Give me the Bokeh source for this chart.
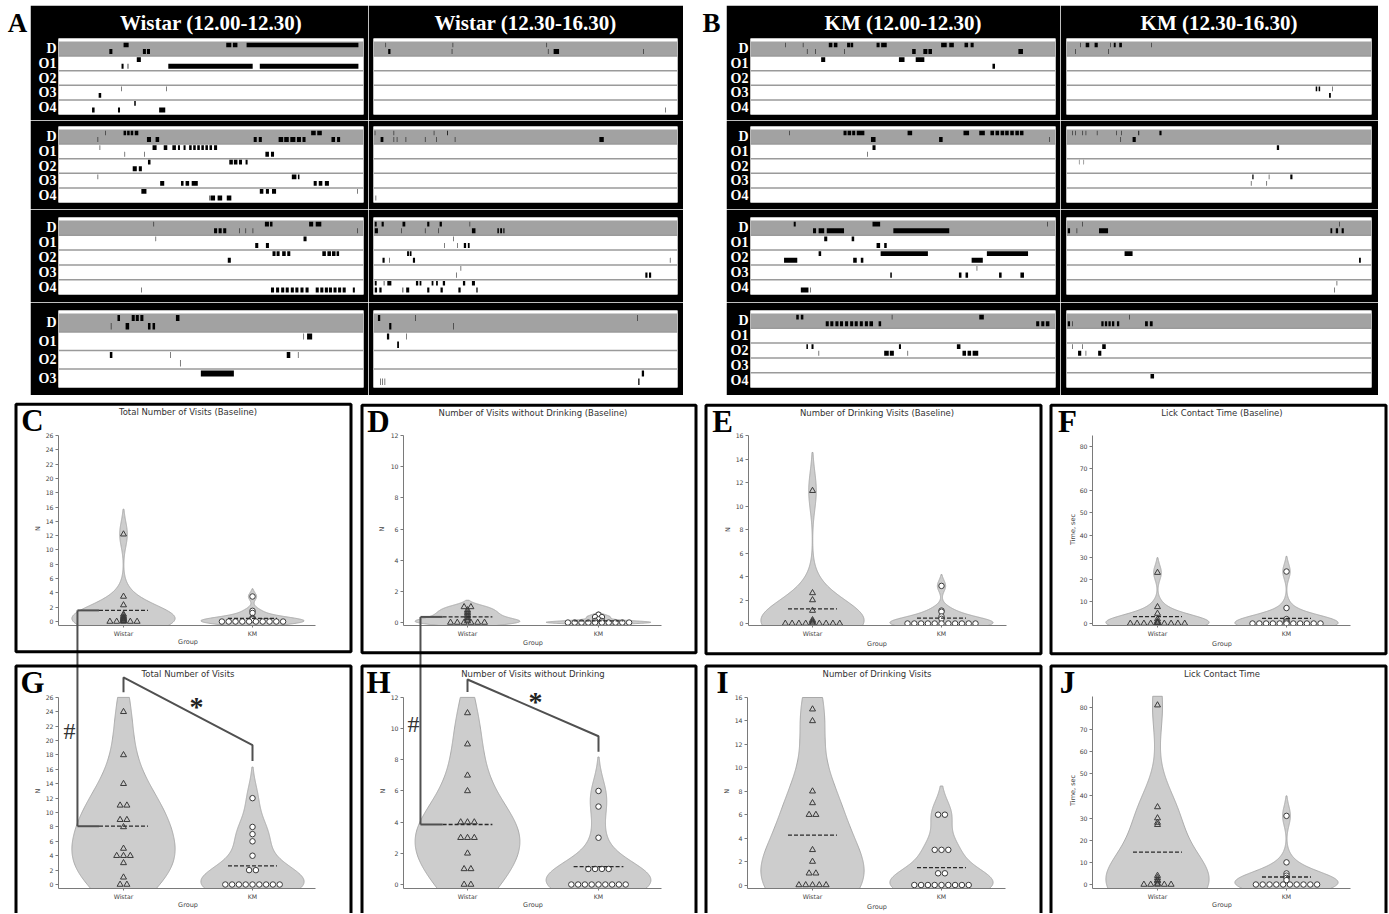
import numpy as np
from bokeh.plotting import figure
from bokeh.models import Range1d, FixedTicker, Label, Spacer
from bokeh.layouts import row, column
from bokeh.embed import file_html
from bokeh.resources import INLINE
from bokeh.core.properties import value

SERIF = "Liberation Serif"
SANS = "DejaVu Sans"

# ------------------------------------------------------------------
# Raster data: (row, track, start_min, end_min); row 0 = D, 1..4 = O1..O4
# track 0 = upper line of the row, track 1 = lower line
# ------------------------------------------------------------------
row_names_5 = ["D", "O1", "O2", "O3", "O4"]
row_names_4 = ["D", "O1", "O2", "O3"]
panel_titles = ["Wistar (12.00-12.30)", "Wistar (12.30-16.30)", "KM (12.00-12.30)", "KM (12.30-16.30)"]

wistar_before_1 = [
    (0, 0, 6.4, 6.9), (0, 0, 16.5, 17.0), (0, 0, 17.15, 17.6), (0, 0, 18.5, 29.5),
    (0, 1, 5.0, 5.3), (0, 1, 8.3, 8.6), (0, 1, 8.7, 9.0),
    (1, 0, 7.7, 8.1),
    (1, 1, 6.2, 6.4), (1, 1, 6.8, 6.87), (1, 1, 10.8, 19.1), (1, 1, 19.8, 29.5),
    (3, 0, 6.15, 6.2), (3, 0, 10.6, 10.65), (3, 1, 3.95, 4.2),
    (4, 0, 7.45, 7.6), (4, 1, 3.3, 3.55), (4, 1, 5.85, 6.05), (4, 1, 9.9, 10.5)]
wistar_before_2 = [
    (0, 0, 4.6, 4.65), (0, 0, 6.4, 6.65), (0, 0, 6.75, 7.0), (0, 0, 7.1, 7.35), (0, 0, 7.5, 7.85),
    (0, 0, 24.85, 25.3), (0, 0, 25.45, 25.9),
    (0, 1, 3.85, 3.9), (0, 1, 8.7, 9.1), (0, 1, 9.55, 9.9), (0, 1, 19.2, 19.5), (0, 1, 19.7, 20.0),
    (0, 1, 21.65, 22.1), (0, 1, 22.2, 22.65), (0, 1, 22.8, 23.3), (0, 1, 23.45, 23.85), (0, 1, 24.0, 24.3),
    (0, 1, 26.85, 27.2), (0, 1, 27.4, 27.7),
    (1, 0, 4.05, 4.1), (1, 0, 9.25, 9.65), (1, 0, 10.35, 10.7), (1, 0, 11.2, 11.55), (1, 0, 11.75, 11.95),
    (1, 0, 12.3, 12.5), (1, 0, 12.85, 13.1), (1, 0, 13.25, 13.5), (1, 0, 13.65, 13.9), (1, 0, 14.05, 14.3),
    (1, 0, 14.45, 14.7), (1, 0, 14.85, 15.1), (1, 0, 15.3, 15.6),
    (1, 1, 6.5, 6.55), (1, 1, 8.45, 8.5), (1, 1, 20.35, 20.7), (1, 1, 20.9, 21.2),
    (2, 0, 8.8, 9.05), (2, 0, 16.8, 17.15), (2, 0, 17.25, 17.6), (2, 0, 17.75, 18.05), (2, 0, 18.4, 18.6),
    (2, 1, 7.3, 7.7), (2, 1, 7.9, 8.2),
    (3, 0, 3.85, 3.9), (3, 0, 22.95, 23.4), (3, 0, 23.55, 23.7),
    (3, 1, 10.0, 10.4), (3, 1, 12.05, 12.3), (3, 1, 12.5, 12.85), (3, 1, 13.1, 13.7),
    (3, 1, 25.1, 25.4), (3, 1, 25.6, 25.95), (3, 1, 26.2, 26.6),
    (4, 0, 8.15, 8.65), (4, 0, 19.8, 20.15), (4, 0, 20.4, 20.7), (4, 0, 21.0, 21.4), (4, 0, 29.4, 29.45),
    (4, 1, 14.85, 14.9), (4, 1, 14.95, 15.4), (4, 1, 15.65, 16.1), (4, 1, 16.55, 17.0)]
wistar_before_3 = [
    (0, 0, 9.35, 9.4), (0, 0, 20.3, 20.7), (0, 0, 20.8, 21.05), (0, 0, 24.65, 25.05), (0, 0, 25.3, 25.85),
    (0, 1, 15.3, 15.6), (0, 1, 15.75, 16.05), (0, 1, 16.2, 16.5), (0, 1, 17.8, 17.85), (0, 1, 18.4, 18.45),
    (0, 1, 19.1, 19.15), (0, 1, 29.4, 29.45),
    (1, 0, 9.55, 9.6), (1, 0, 24.1, 24.4), (1, 1, 19.35, 19.65), (1, 1, 20.4, 20.7),
    (2, 0, 21.05, 21.35), (2, 0, 21.45, 21.75), (2, 0, 22.0, 22.35), (2, 0, 22.5, 22.8),
    (2, 0, 25.95, 26.3), (2, 0, 26.45, 26.8), (2, 0, 26.9, 27.25), (2, 0, 27.35, 27.6),
    (2, 1, 16.65, 16.95),
    (4, 1, 8.15, 8.2), (4, 1, 20.9, 21.2), (4, 1, 21.4, 21.7), (4, 1, 21.9, 22.2), (4, 1, 22.35, 22.65),
    (4, 1, 22.85, 23.15), (4, 1, 23.3, 23.6), (4, 1, 23.8, 24.1), (4, 1, 24.3, 24.6), (4, 1, 25.3, 25.6),
    (4, 1, 25.75, 26.05), (4, 1, 26.2, 26.5), (4, 1, 26.6, 26.9), (4, 1, 27.05, 27.35), (4, 1, 27.5, 27.8),
    (4, 1, 27.95, 28.25), (4, 1, 28.95, 29.15)]
wistar_before_4 = [
    (0, 0, 5.8, 6.05), (0, 0, 7.2, 7.5), (0, 0, 7.6, 7.9), (0, 0, 8.05, 8.35), (0, 0, 11.55, 11.9),
    (0, 1, 5.15, 5.2), (0, 1, 6.6, 6.95), (0, 1, 8.8, 9.05), (0, 1, 9.25, 9.5),
    (1, 0, 24.1, 24.15), (1, 0, 24.45, 24.95),
    (2, 0, 5.05, 5.3), (2, 0, 11.0, 11.05), (2, 0, 22.45, 22.8), (2, 0, 23.55, 23.6), (2, 1, 11.95, 12.0),
    (3, 0, 14.0, 17.25)]

wistar_after_1 = [
    (0, 0, 9.5, 9.9), (0, 0, 62.5, 62.9), (0, 0, 136.6, 137.0),
    (0, 1, 11.6, 13.4), (0, 1, 61.8, 62.2), (0, 1, 137.7, 138.1), (0, 1, 142.2, 146.5), (0, 1, 212.9, 213.3),
    (4, 1, 230.5, 230.9)]
wistar_after_2 = [
    (0, 0, 1.0, 1.4), (0, 0, 15.9, 16.3), (0, 0, 47.6, 48.0), (0, 0, 58.2, 58.8),
    (0, 1, 5.6, 7.8), (0, 1, 15.9, 16.3), (0, 1, 18.4, 18.8), (0, 1, 25.4, 25.8), (0, 1, 40.6, 41.0),
    (0, 1, 49.4, 49.8), (0, 1, 64.2, 64.6), (0, 1, 178.3, 181.8),
    (4, 1, 1.7, 2.1)]
wistar_after_3 = [
    (0, 0, 1.0, 2.5), (0, 0, 6.4, 8.1), (0, 0, 22.9, 25.1), (0, 0, 42.4, 44.1), (0, 0, 52.2, 54.0), (0, 0, 75.9, 76.3),
    (0, 1, 1.0, 3.5), (0, 1, 21.9, 22.3), (0, 1, 40.6, 41.0), (0, 1, 51.2, 51.6), (0, 1, 77.7, 80.5),
    (0, 1, 97.8, 99.0), (0, 1, 100.0, 101.5), (0, 1, 102.5, 103.4),
    (1, 0, 62.8, 63.2), (1, 1, 55.8, 56.2), (1, 1, 66.0, 66.4), (1, 1, 71.3, 73.1), (1, 1, 74.5, 75.9),
    (2, 0, 26.5, 28.0), (2, 0, 28.6, 30.0),
    (2, 1, 7.1, 8.8), (2, 1, 12.3, 12.7), (2, 1, 31.1, 32.8), (2, 1, 234.0, 234.4),
    (3, 0, 68.8, 69.2), (3, 1, 65.3, 65.7), (3, 1, 214.6, 216.3), (3, 1, 217.5, 219.2),
    (4, 0, 1.0, 2.5), (4, 0, 8.1, 8.6), (4, 0, 10.9, 14.1), (4, 0, 33.5, 35.3), (4, 0, 36.4, 37.8),
    (4, 0, 45.9, 47.3), (4, 0, 49.4, 50.8), (4, 0, 54.7, 56.5), (4, 0, 70.6, 72.4), (4, 0, 77.7, 80.1),
    (4, 1, 1.0, 2.8), (4, 1, 4.6, 6.4), (4, 1, 22.9, 23.5), (4, 1, 25.8, 28.2), (4, 1, 42.4, 44.1),
    (4, 1, 52.9, 54.7), (4, 1, 67.0, 68.8), (4, 1, 81.2, 82.2)]
wistar_after_4 = [
    (0, 0, 3.5, 5.3), (0, 0, 32.8, 33.2), (0, 0, 208.3, 208.7),
    (0, 1, 12.4, 14.1), (0, 1, 62.8, 63.2),
    (1, 0, 10.6, 12.4), (1, 0, 25.8, 26.2), (1, 1, 18.7, 20.1),
    (3, 0, 211.8, 213.6), (3, 1, 5.3, 5.7), (3, 1, 7.0, 7.4), (3, 1, 8.8, 9.2), (3, 1, 209.0, 210.0)]

km_before_1 = [
    (0, 0, 3.4, 3.45), (0, 0, 5.15, 5.2), (0, 0, 7.7, 8.05), (0, 0, 8.2, 8.55), (0, 0, 9.5, 9.8), (0, 0, 9.85, 10.1),
    (0, 0, 12.4, 12.7), (0, 0, 12.85, 13.4), (0, 0, 18.75, 19.3), (0, 0, 19.55, 20.0), (0, 0, 21.05, 21.4),
    (0, 0, 21.65, 21.95),
    (0, 1, 5.55, 5.6), (0, 1, 6.35, 6.4), (0, 1, 9.2, 9.25), (0, 1, 15.9, 16.25), (0, 1, 17.0, 17.4),
    (0, 1, 17.5, 17.85), (0, 1, 26.35, 26.8),
    (1, 0, 6.95, 7.35), (1, 0, 14.6, 15.15), (1, 0, 16.25, 17.1), (1, 1, 23.8, 24.05)]
km_before_2 = [
    (0, 0, 3.8, 3.85), (0, 0, 9.15, 9.45), (0, 0, 9.55, 9.9), (0, 0, 10.0, 10.3), (0, 0, 10.45, 11.2),
    (0, 0, 15.45, 15.9), (0, 0, 20.95, 21.5), (0, 0, 22.5, 23.05), (0, 0, 23.6, 23.95), (0, 0, 24.1, 24.45),
    (0, 0, 24.6, 24.95), (0, 0, 25.05, 25.4), (0, 0, 25.55, 25.9), (0, 0, 26.05, 26.4), (0, 0, 26.5, 26.85),
    (0, 1, 11.85, 12.3), (0, 1, 18.55, 18.9), (0, 1, 29.4, 29.45),
    (1, 0, 12.0, 12.3), (1, 1, 11.5, 11.55)]
km_before_3 = [
    (0, 0, 4.25, 4.45), (0, 0, 12.0, 12.75), (0, 0, 29.2, 29.25),
    (0, 1, 6.15, 6.45), (0, 1, 6.7, 7.25), (0, 1, 7.5, 9.2), (0, 1, 14.05, 19.55),
    (1, 0, 7.25, 7.55), (1, 0, 9.95, 10.2), (1, 1, 12.4, 12.75), (1, 1, 13.15, 13.4),
    (2, 0, 6.7, 6.95), (2, 0, 12.8, 17.45), (2, 0, 23.25, 27.3),
    (2, 1, 3.3, 4.6), (2, 1, 10.1, 10.45), (2, 1, 10.85, 11.1), (2, 1, 21.75, 22.85),
    (3, 0, 22.25, 22.3),
    (3, 1, 13.75, 13.9), (3, 1, 20.5, 20.75), (3, 1, 21.15, 21.4), (3, 1, 24.45, 24.7), (3, 1, 26.55, 26.9),
    (4, 1, 4.95, 5.7), (4, 1, 5.9, 5.95)]
km_before_4 = [
    (0, 0, 4.5, 4.75), (0, 0, 4.95, 5.2), (0, 0, 13.9, 13.95), (0, 0, 22.5, 22.95),
    (0, 1, 7.4, 7.7), (0, 1, 7.85, 8.15), (0, 1, 8.35, 8.65), (0, 1, 8.8, 9.1), (0, 1, 9.3, 9.6),
    (0, 1, 9.8, 10.1), (0, 1, 10.25, 10.55), (0, 1, 10.75, 11.05), (0, 1, 11.25, 11.55), (0, 1, 11.7, 12.05),
    (0, 1, 12.6, 12.85), (0, 1, 28.1, 28.4), (0, 1, 28.6, 28.9), (0, 1, 29.05, 29.4),
    (2, 0, 5.5, 5.65), (2, 0, 6.0, 6.2), (2, 0, 14.6, 14.8), (2, 0, 20.3, 20.65),
    (2, 1, 6.7, 6.75), (2, 1, 13.15, 13.6), (2, 1, 13.7, 14.1), (2, 1, 15.45, 15.5),
    (2, 1, 20.85, 21.2), (2, 1, 21.35, 21.7), (2, 1, 21.85, 22.4)]

km_after_1 = [
    (0, 0, 10.9, 11.3), (0, 0, 15.1, 17.9), (0, 0, 22.1, 24.6), (0, 0, 34.4, 34.8), (0, 0, 37.2, 38.7),
    (0, 0, 41.5, 43.6), (0, 0, 66.8, 67.2),
    (0, 1, 7.0, 7.4), (0, 1, 32.7, 33.1),
    (3, 0, 196.1, 197.3), (3, 0, 198.4, 199.6), (3, 0, 209.1, 209.5), (3, 1, 206.6, 208.0)]
km_after_2 = [
    (0, 0, 4.6, 5.0), (0, 0, 7.0, 7.4), (0, 0, 12.6, 13.0), (0, 0, 15.1, 15.5), (0, 0, 23.9, 24.3),
    (0, 0, 39.0, 39.4), (0, 0, 43.2, 43.6), (0, 0, 56.5, 57.2), (0, 0, 73.1, 74.8),
    (0, 1, 42.5, 42.9), (0, 1, 52.0, 54.5),
    (1, 0, 165.5, 167.3),
    (2, 0, 9.8, 10.1), (2, 0, 13.5, 13.8),
    (3, 0, 146.2, 147.2), (3, 0, 159.2, 159.6), (3, 0, 176.1, 177.8),
    (3, 1, 145.1, 145.5), (3, 1, 157.4, 157.8)]
km_after_3 = [
    (0, 0, 12.3, 12.7), (0, 0, 214.7, 215.1),
    (0, 1, 1.0, 2.8), (0, 1, 8.0, 8.4), (0, 1, 25.6, 32.7), (0, 1, 207.7, 209.1), (0, 1, 211.9, 213.7),
    (0, 1, 216.5, 218.2),
    (2, 0, 45.7, 52.0), (2, 1, 230.2, 231.6),
    (4, 0, 212.6, 213.0), (4, 1, 210.8, 211.2)]
km_after_4 = [
    (0, 0, 49.5, 49.9),
    (0, 1, 1.0, 2.8), (0, 1, 4.6, 5.0), (0, 1, 27.4, 29.2), (0, 1, 30.2, 32.0), (0, 1, 33.0, 34.8),
    (0, 1, 35.8, 37.6), (0, 1, 39.7, 41.5), (0, 1, 61.8, 64.0), (0, 1, 65.6, 67.8),
    (2, 0, 4.6, 5.0), (2, 0, 12.3, 12.7), (2, 0, 28.1, 30.9),
    (2, 1, 9.1, 11.6), (2, 1, 15.1, 15.5), (2, 1, 24.9, 27.4),
    (4, 0, 66.1, 68.9)]

# ------------------------------------------------------------------
# Violin data (one value per animal) and the dashed mean lines
# ------------------------------------------------------------------
groups = ["Wistar", "KM"]
total_visits_base_wistar = [12.2, 3.5, 2.3, 1.0, 0.8, 0.6, 0.5, 0.4, 0.3, 0.2, 0.1, 0, 0, 0, 0, 0]
total_visits_base_km = [3.5, 1.5, 1.2, 0.5, 0.4, 0.3, 0, 0, 0, 0, 0, 0, 0, 0, 0, 0]
nodrink_base_wistar = [1.0, 1.0, 0.8, 0.7, 0.6, 0.5, 0.4, 0.3, 0.2, 0.1, 0, 0, 0, 0, 0, 0]
nodrink_base_km = [0.5, 0.35, 0.35, 0.2, 0.1, 0.1, 0, 0, 0, 0, 0, 0, 0, 0, 0, 0]
drink_base_wistar = [11.3, 2.6, 2.0, 1.1, 0.3, 0.2, 0.1, 0, 0, 0, 0, 0, 0, 0, 0, 0]
drink_base_km = [3.2, 1.1, 1.0, 0.6, 0.4, 0, 0, 0, 0, 0, 0, 0, 0, 0, 0, 0]
lick_base_wistar = [23.0, 7.5, 4.5, 2.0, 1.0, 0.5, 0.3, 0, 0, 0, 0, 0, 0, 0, 0, 0]
lick_base_km = [23.5, 7.0, 2.0, 1.0, 0.5, 0, 0, 0, 0, 0, 0, 0, 0, 0, 0, 0]
total_visits_wistar = [24, 18, 14, 11, 11, 9, 9, 8, 5, 4, 4, 4, 3, 1, 0, 0]
total_visits_km = [12, 8, 7, 6, 4, 2, 2, 0, 0, 0, 0, 0, 0, 0, 0, 0]
nodrink_wistar = [11, 9, 7, 6, 4, 4, 4, 3, 3, 3, 2, 1, 1, 0, 0]
nodrink_km = [6, 5, 3, 1, 1, 1, 1, 0, 0, 0, 0, 0, 0, 0, 0, 0]
drink_wistar = [15, 14, 8, 7, 6, 6, 3, 2, 1, 1, 0, 0, 0, 0, 0]
drink_km = [6, 6, 3, 3, 3, 1, 1, 0, 0, 0, 0, 0, 0, 0, 0, 0]
lick_wistar = [81, 35, 30, 28, 27, 4, 3, 2, 1.5, 0.5, 0, 0, 0, 0, 0]
lick_km = [31, 10, 5, 4, 3, 2, 0, 0, 0, 0, 0, 0, 0, 0, 0, 0]

total_visits_base_means = [1.56, 0.45]
nodrink_base_means = [0.36, 0.11]
drink_base_means = [1.25, 0.45]
lick_base_means = [3.1, 2.3]
total_visits_means = [8.1, 2.6]
nodrink_means = [3.85, 1.15]
drink_means = [4.25, 1.48]
lick_means = [14.6, 3.4]

ticks_26 = [0, 2, 4, 6, 8, 10, 12, 14, 16, 18, 20, 22, 24, 26]
ticks_12 = [0, 2, 4, 6, 8, 10, 12]
ticks_16 = [0, 2, 4, 6, 8, 10, 12, 14, 16]
ticks_80 = [0, 10, 20, 30, 40, 50, 60, 70, 80]

# significance brackets: (wistar bottom, wistar top, km top, km bottom), star / hash positions
sig_total = dict(levels=(26.73, 28.77, 19.36, 17.15), star=(0.566, 24.8), hash=(-0.419, 21.3))
sig_nodrink = dict(levels=(12.34, 13.15, 9.51, 8.51), star=(0.52, 11.76), hash=(-0.412, 10.27))


# ------------------------------------------------------------------
def put_text(p, x, y, txt, size, color="black", font=SANS, style="normal", angle=0.0):
    p.text(x=[x], y=[y], text=[txt], text_font=value(font), text_font_style=style,
           text_font_size=value(size), text_color=color, text_align="center",
           text_baseline="middle", angle=angle, level="overlay")


def raster_fig(events, names, T, w, h, bl, br, bt, bb, show_labels, title, title_cy):
    n = len(names)
    fh = h - bt - bb
    ppu = (fh - 3.0) / n
    strip = 3.0 / ppu
    p = figure(width=w, height=h, x_range=Range1d(0, T), y_range=Range1d(n, -strip),
               output_backend="svg", toolbar_location=None, title=None,
               x_axis_location=None, y_axis_location=("left" if show_labels else None),
               min_border_left=bl, min_border_right=br, min_border_top=bt, min_border_bottom=bb)
    p.border_fill_color = "black"
    p.background_fill_color = "white"
    p.outline_line_color = None
    p.grid.visible = False
    p.quad(left=[0], right=[T], top=[0], bottom=[1], fill_color="#a2a2a2", line_color=None)
    seps = list(range(1, n))
    p.segment(x0=[0] * len(seps), x1=[T] * len(seps), y0=seps, y1=seps,
              line_color="#9a9a9a", line_width=1.5)
    if events:
        r = np.array([e[0] for e in events], float)
        tr = np.array([e[1] for e in events])
        s = [e[2] for e in events]
        en = [e[3] for e in events]
        top = r + np.where(tr == 0, 0.08, 0.52)
        bot = r + np.where(tr == 0, 0.40, 0.86)
        p.quad(left=s, right=en, top=top, bottom=bot, fill_color="black", line_color=None)
    if show_labels:
        ax = p.yaxis[0]
        ax.ticker = FixedTicker(ticks=[i + 0.5 for i in range(n)])
        ax.major_label_overrides = {i + 0.5: nm for i, nm in enumerate(names)}
        ax.axis_line_color = None
        ax.major_tick_line_color = None
        ax.minor_tick_line_color = None
        ax.major_tick_out = 0
        ax.major_tick_in = 0
        ax.major_label_standoff = 2
        ax.major_label_text_color = "white"
        ax.major_label_text_font = SERIF
        ax.major_label_text_font_style = "bold"
        ax.major_label_text_font_size = "14px"
    if title:
        yd = -strip - (bt - title_cy) / ppu
        put_text(p, T / 2.0, yd, title, "21px", color="white", font=SERIF, style="bold")
    return p


TITLE_CY = 17
ROWS = [dict(h=115, bt=33, bb=6), dict(h=89, bt=6, bb=7), dict(h=93, bt=8, bb=8), dict(h=93, bt=8, bb=8)]
A_COLS = [dict(w=338, bl=28, br=5, T=30), dict(w=315, bl=5, br=6, T=240)]
B_COLS = [dict(w=334, bl=24, br=5, T=30), dict(w=318, bl=6, br=7, T=240)]


def raster_block(cols, before, after, names_list, titles):
    rws = []
    for i, rs in enumerate(ROWS):
        figs = []
        for j, cs in enumerate(cols):
            ev = (before, after)[j][i]
            figs.append(raster_fig(ev, names_list[i], cs["T"], cs["w"], rs["h"], cs["bl"], cs["br"],
                                   rs["bt"], rs["bb"], j == 0, titles[j] if i == 0 else None, TITLE_CY))
        rws.append(row(*figs))
    return column(*rws)


def letter_fig(w, h, text, cx, cy):
    p = figure(width=w, height=h, x_range=Range1d(0, 1), y_range=Range1d(0, 1),
               x_axis_location=None, y_axis_location=None, min_border=0, title=None,
               output_backend="svg", toolbar_location=None)
    p.outline_line_color = None
    p.grid.visible = False
    p.add_layout(Label(x=cx, y=cy, x_units="canvas", y_units="canvas", text=text, text_font=SERIF,
                       text_font_style="bold", text_font_size="27px", text_align="center",
                       text_baseline="middle", text_color="black"))
    return p


def kde(vals, ytop, cut=2.0, n=300):
    v = np.asarray(vals, float)
    bw = v.std(ddof=1) * len(v) ** (-0.2)
    lo, hi = v.min() - cut * bw, v.max() + cut * bw
    ys = np.linspace(lo, hi, n)
    d = np.exp(-0.5 * ((ys[:, None] - v[None, :]) / bw) ** 2).sum(1)
    d = d / d.max()
    if hi > ytop:
        dt = np.interp(ytop, ys, d)
        keep = ys < ytop
        ys = np.append(ys[keep], ytop)
        d = np.append(d[keep], dt)
    return ys, d


def swarm(vals, pos, dx):
    counts = {}
    for v in vals:
        counts[v] = counts.get(v, 0) + 1
    xs, ys = [], []
    for v, c in counts.items():
        for k in range(c):
            xs.append(pos + (k - (c - 1) / 2.0) * dx)
            ys.append(v)
    return xs, ys


LINE = "#505050"


def violin_fig(sp):
    fx0, fy0, fw, fh = sp["fig"]
    L, R, T, B = sp["frame"]
    bl, br, bt, bb = L - fx0, fx0 + fw - R, T - fy0, fy0 + fh - B
    ytop = sp["ytop"]
    pxu = (sp["y0px"] - sp["ytoppx"]) / ytop
    y_lo = -(B - sp["y0px"]) / pxu
    y_hi = (sp["y0px"] - T) / pxu
    wpx, kpx = sp["xpx"]
    pxx = float(kpx - wpx)
    x_lo, x_hi = (L - wpx) / pxx, (R - wpx) / pxx

    def X(px):  # page x -> data x
        return (px - wpx) / pxx

    def Y(py):  # page y -> data y
        return (sp["y0px"] - py) / pxu

    p = figure(width=fw, height=fh, x_range=Range1d(x_lo, x_hi), y_range=Range1d(y_lo, y_hi),
               output_backend="svg", toolbar_location=None, title=None,
               min_border_left=bl, min_border_right=br, min_border_top=bt, min_border_bottom=bb)
    p.background_fill_color = "white"
    p.border_fill_color = "white"
    p.outline_line_color = None
    p.grid.visible = False

    data = sp["data"]
    means = sp["means"]
    dx = 6.8 / pxx
    for pos, vals in enumerate(data):
        ys, d = kde(vals, ytop)
        xs = np.concatenate([pos + 0.4 * d, (pos - 0.4 * d)[::-1]])
        yy = np.concatenate([ys, ys[::-1]])
        p.patch(xs, yy, fill_color="#cdcdcd", line_color="#a9a9a9", line_width=1)
    for pos, vals in enumerate(data):
        sx, sy = swarm(vals, pos, dx)
        if pos == 0:
            p.scatter(sx, sy, marker="triangle", size=6, fill_color=None, line_color="#3a3a3a", line_width=1)
        else:
            p.scatter(sx, sy, marker="circle", size=5.5, fill_color="white", line_color="#3a3a3a", line_width=1)
    p.segment(x0=[0 - 0.19, 1 - 0.19], x1=[0 + 0.19, 1 + 0.19], y0=means, y1=means,
              line_color="#2a2a2a", line_width=1.3, line_dash="4 2")

    # hash bracket (connects baseline panel with the lower panel)
    hx = sp["hash_x"]
    if sp["hash"] == "down":
        yb = Y(fy0 + fh + 2)
        p.segment(x0=[hx, hx], x1=[hx, -0.19], y0=[means[0], means[0]], y1=[yb, means[0]],
                  line_color=LINE, line_width=2, level="overlay")
    elif sp["hash"] == "up":
        yt = Y(fy0 - 2)
        p.segment(x0=[hx, hx], x1=[hx, -0.19], y0=[yt, means[0]], y1=[means[0], means[0]],
                  line_color=LINE, line_width=2, level="overlay")
    sig = sp.get("sig")
    if sig:
        wb, wt, kt, kb = sig["levels"]
        p.line(x=[0, 0, 1, 1], y=[wb, wt, kt, kb], line_color=LINE, line_width=2, level="overlay")
        put_text(p, sig["star"][0], sig["star"][1], "*", "28px", color="#222222", font=SERIF, style="bold")
        put_text(p, sig["hash"][0], sig["hash"][1], "#", "24px", color="#333333", font=SERIF)

    xa = p.xaxis[0]
    xa.ticker = FixedTicker(ticks=[0, 1])
    xa.major_label_overrides = {0: groups[0], 1: groups[1]}
    ya = p.yaxis[0]
    ya.ticker = FixedTicker(ticks=sp["yticks"])
    ya.bounds = (y_lo, ytop)
    for ax in (xa, ya):
        ax.axis_line_color = "#7a7a7a"
        ax.major_tick_line_color = "#7a7a7a"
        ax.minor_tick_line_color = None
        ax.major_tick_in = 0
        ax.major_label_text_font = SANS
        ax.major_label_text_font_size = "6.2px"
        ax.major_label_text_color = "#444444"
        ax.major_label_standoff = 2
    xa.major_tick_out = 2
    ya.major_tick_out = 3

    bx0, by0, bx1, by1 = sp["box"]
    p.quad(left=[X(bx0 + 1.5)], right=[X(bx1 - 1.5)], top=[Y(by0 + 1.5)], bottom=[Y(by1 - 1.5)],
           fill_color=None, line_color="black", line_width=3, level="overlay")
    put_text(p, X(bx0 + 18), Y(by0 + 18), sp["letter"], "31px", font=SERIF, style="bold")
    put_text(p, 0.5, Y(by0 + 9), sp["title"], "8.5px", color="#333333")
    put_text(p, X(sp["ylabx"]), ytop / 2.0, sp["ylabel"], "6.5px", color="#444444", angle=np.pi / 2)
    put_text(p, 0.5, Y(sp["groupy"]), "Group", "6.5px", color="#444444")
    return p


panels_top = [
    dict(letter="C", fig=(0, 399, 356, 260), frame=(58, 315, 435, 627), box=(14, 402, 352, 655),
         y0px=623, ytop=26, ytoppx=435, xpx=(123, 252), yticks=ticks_26,
         title="Total Number of Visits (Baseline)", ylabel="N", ylabx=37, groupy=644,
         data=(total_visits_base_wistar, total_visits_base_km), means=total_visits_base_means,
         hash="down", hash_x=-0.357),
    dict(letter="D", fig=(356, 399, 345, 260), frame=(403, 661, 434, 626), box=(360, 402, 697, 655),
         y0px=623, ytop=12, ytoppx=434, xpx=(467, 598), yticks=ticks_12,
         title="Number of Visits without Drinking (Baseline)", ylabel="N", ylabx=381, groupy=644,
         data=(nodrink_base_wistar, nodrink_base_km), means=nodrink_base_means,
         hash="down", hash_x=-0.359),
    dict(letter="E", fig=(701, 399, 345, 260), frame=(748, 1006, 434, 625), box=(704, 402, 1042, 655),
         y0px=623, ytop=16, ytoppx=434, xpx=(812, 941), yticks=ticks_16,
         title="Number of Drinking Visits (Baseline)", ylabel="N", ylabx=727, groupy=644,
         data=(drink_base_wistar, drink_base_km), means=drink_base_means, hash=None, hash_x=0),
    dict(letter="F", fig=(1046, 399, 342, 260), frame=(1092, 1350, 434, 625), box=(1049, 402, 1387, 655),
         y0px=623, ytop=85, ytoppx=434, xpx=(1157, 1286), yticks=ticks_80,
         title="Lick Contact Time (Baseline)", ylabel="Time, sec", ylabx=1072, groupy=644,
         data=(lick_base_wistar, lick_base_km), means=lick_base_means, hash=None, hash_x=0),
]
panels_bot = [
    dict(letter="G", fig=(0, 659, 356, 254), frame=(58, 315, 675, 889), box=(14, 664, 352, 930),
         y0px=885, ytop=26, ytoppx=697, xpx=(123, 252), yticks=ticks_26,
         title="Total Number of Visits", ylabel="N", ylabx=37, groupy=906,
         data=(total_visits_wistar, total_visits_km), means=total_visits_means,
         hash="up", hash_x=-0.357, sig=sig_total),
    dict(letter="H", fig=(356, 659, 345, 254), frame=(403, 661, 675, 889), box=(360, 664, 697, 930),
         y0px=885, ytop=12, ytoppx=697, xpx=(467, 598), yticks=ticks_12,
         title="Number of Visits without Drinking", ylabel="N", ylabx=382, groupy=906,
         data=(nodrink_wistar, nodrink_km), means=nodrink_means,
         hash="up", hash_x=-0.359, sig=sig_nodrink),
    dict(letter="I", fig=(701, 659, 345, 254), frame=(747, 1005, 675, 888), box=(704, 664, 1042, 930),
         y0px=884.5, ytop=16, ytoppx=697, xpx=(812, 941), yticks=ticks_16,
         title="Number of Drinking Visits", ylabel="N", ylabx=726, groupy=906,
         data=(drink_wistar, drink_km), means=drink_means, hash=None, hash_x=0),
    dict(letter="J", fig=(1046, 659, 342, 254), frame=(1092, 1350, 675, 889), box=(1049, 664, 1387, 930),
         y0px=885, ytop=85, ytoppx=695.9, xpx=(1157, 1286), yticks=ticks_80,
         title="Lick Contact Time", ylabel="Time, sec", ylabx=1072, groupy=906,
         data=(lick_wistar, lick_km), means=lick_means, hash=None, hash_x=0),
]

names_w = [row_names_5, row_names_5, row_names_5, row_names_4]
names_k = [row_names_5, row_names_5, row_names_5, row_names_5]
block_a = raster_block(A_COLS,
                       [wistar_before_1, wistar_before_2, wistar_before_3, wistar_before_4],
                       [wistar_after_1, wistar_after_2, wistar_after_3, wistar_after_4],
                       names_w, panel_titles[0:2])
block_b = raster_block(B_COLS,
                       [km_before_1, km_before_2, km_before_3, km_before_4],
                       [km_after_1, km_after_2, km_after_3, km_after_4],
                       names_k, panel_titles[2:4])

top_row = row(letter_fig(30, 390, "A", 17, 17), block_a, letter_fig(43, 390, "B", 28, 17), block_b)
mid_row = row(*[violin_fig(sp) for sp in panels_top])
bot_row = row(*[violin_fig(sp) for sp in panels_bot])
layout = column(Spacer(width=1378, height=5), top_row, Spacer(width=1378, height=4), mid_row, bot_row)

open("out.html", "w").write(file_html(layout, INLINE))
